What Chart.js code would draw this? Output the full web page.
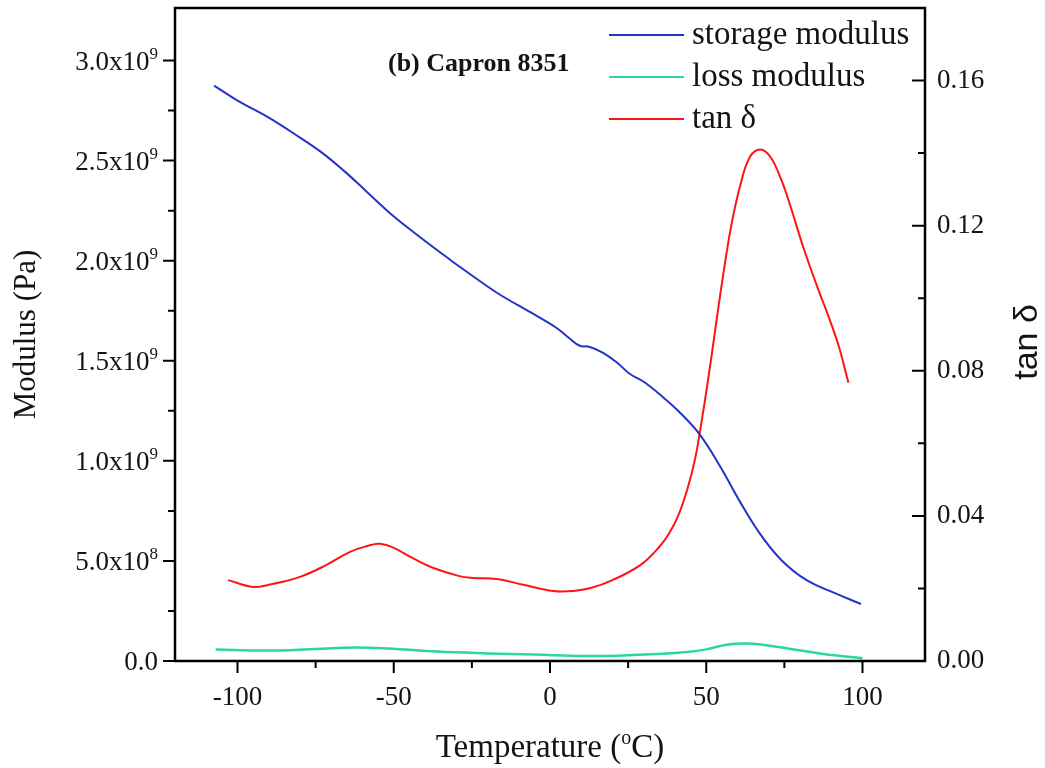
<!DOCTYPE html>
<html>
<head>
<meta charset="utf-8">
<script src="https://cdn.jsdelivr.net/npm/chart.js@4.4.1/dist/chart.umd.min.js"></script>
<style>
  html, body { margin: 0; padding: 0; background: #fff; }
  canvas { display: block; }
</style>
</head>
<body>
<canvas id="dma" width="1045" height="768"></canvas>
<script>
// DMA temperature sweep, Capron 8351
const storageTemp = [-107.5, -100, -90, -80, -73, -66, -59, -51, -43, -32, -28, -17, -6, 2, 6, 9.5, 12.5, 17, 21.5, 25.5, 30, 36, 41, 48, 54.5, 61, 67, 74, 82, 91, 99.5];
const storageModulus = [2.875, 2.80, 2.715, 2.615, 2.54, 2.45, 2.35, 2.235, 2.135, 2.005, 1.96, 1.84, 1.74, 1.665, 1.615, 1.575, 1.57, 1.54, 1.49, 1.435, 1.395, 1.32, 1.25, 1.13, 0.97, 0.79, 0.64, 0.505, 0.405, 0.34, 0.285]; // x10^9 Pa

const lossTemp = [-107, -91, -75, -62.5, -52, -36, -20, -5, 11, 26.5, 42, 50, 56, 62.5, 68.5, 78, 87.5, 100];
const lossModulus = [0.057, 0.052, 0.06, 0.068, 0.063, 0.047, 0.038, 0.032, 0.025, 0.03, 0.042, 0.058, 0.08, 0.087, 0.08, 0.058, 0.035, 0.014]; // x10^9 Pa

const tanTemp = [-103, -95, -90, -80, -71.5, -64, -58.5, -54.5, -50, -44, -37.5, -29, -24.5, -17, -8.5, 1, 7.5, 13, 20, 29, 35, 38, 41, 44, 46.5, 48.5, 50.5, 52.5, 55, 58, 61, 64, 67.3, 70.5, 74, 77, 81, 85.5, 89.5, 92.5, 95.5];
const tanDelta = [0.0223, 0.0204, 0.021, 0.0232, 0.0265, 0.0301, 0.0317, 0.0323, 0.0312, 0.0284, 0.0257, 0.0234, 0.0229, 0.0226, 0.021, 0.0193, 0.0193, 0.0201, 0.0223, 0.0265, 0.0315, 0.035, 0.040, 0.0475, 0.056, 0.066, 0.077, 0.089, 0.104, 0.120, 0.1315, 0.139, 0.141, 0.139, 0.1327, 0.1252, 0.1142, 0.1032, 0.0941, 0.0865, 0.0767];

const tempTicks = [-100, -50, 0, 50, 100];
const modulusTicks = [0, 0.5e9, 1.0e9, 1.5e9, 2.0e9, 2.5e9, 3.0e9];
const modulusLabels = ['0.0', '5.0x10^8', '1.0x10^9', '1.5x10^9', '2.0x10^9', '2.5x10^9', '3.0x10^9'];
const tanTicks = [0, 0.04, 0.08, 0.12, 0.16];
const tanLabels = ['0.00', '0.04', '0.08', '0.12', '0.16'];

const seriesNames = ['storage modulus', 'loss modulus', 'tan \u03b4'];
const seriesColors = ['#2434c6', '#2bd896', '#ff1414'];

const SERIF = "'Liberation Serif', 'Times New Roman', serif";
const INK = '#141414';

const toPoints = (xs, ys, k) => xs.map((t, i) => ({ x: t, y: ys[i] * k }));

function midpoints(list) {
  const out = [];
  for (let i = 1; i < list.length; i++) out.push((list[i - 1] + list[i]) / 2);
  return out;
}

// text with raised exponent parts, y is the baseline
function drawRich(ctx, parts, x, y, size, align) {
  const small = Math.round(size * 0.62);
  const widths = parts.map(p => {
    ctx.font = `${p.sup ? small : size}px ${SERIF}`;
    return ctx.measureText(p.text).width;
  });
  const total = widths.reduce((s, w) => s + w, 0);
  let cx = align === 'right' ? x - total : align === 'center' ? x - total / 2 : x;
  ctx.textAlign = 'left';
  ctx.textBaseline = 'alphabetic';
  parts.forEach((p, i) => {
    ctx.font = `${p.sup ? small : size}px ${SERIF}`;
    ctx.fillText(p.text, cx, p.sup ? y - size * 0.4 : y);
    cx += widths[i];
  });
}

const decorations = {
  id: 'decorations',
  afterDraw(chart) {
    const { ctx, chartArea: a, scales } = chart;
    ctx.save();

    ctx.strokeStyle = '#000';
    ctx.lineWidth = 2.5;
    ctx.strokeRect(a.left, a.top, a.right - a.left, a.bottom - a.top);

    // tick marks: bottom and left point out, right points in
    ctx.lineWidth = 2;
    ctx.beginPath();
    const xTick = (v, len) => {
      const px = scales.x.getPixelForValue(v);
      ctx.moveTo(px, a.bottom); ctx.lineTo(px, a.bottom + len);
    };
    const yTick = (v, len) => {
      const py = scales.y.getPixelForValue(v);
      ctx.moveTo(a.left, py); ctx.lineTo(a.left - len, py);
    };
    const y1Tick = (v, len) => {
      const py = scales.y1.getPixelForValue(v);
      ctx.moveTo(a.right, py); ctx.lineTo(a.right - len, py);
    };
    tempTicks.forEach(v => xTick(v, 12));
    midpoints(tempTicks).forEach(v => xTick(v, 7));
    modulusTicks.forEach(v => yTick(v, 12));
    midpoints(modulusTicks).forEach(v => yTick(v, 7));
    tanTicks.forEach(v => y1Tick(v, 13));
    midpoints(tanTicks).forEach(v => y1Tick(v, 7));
    ctx.stroke();

    ctx.fillStyle = INK;
    modulusTicks.forEach((v, i) => {
      const [base, exp] = modulusLabels[i].split('^');
      const parts = [{ text: base }];
      if (exp) parts.push({ text: exp, sup: true });
      drawRich(ctx, parts, 158, scales.y.getPixelForValue(v) + 9, 27, 'right');
    });

    drawRich(ctx, [{ text: 'Temperature (' }, { text: 'o', sup: true }, { text: 'C)' }],
      (a.left + a.right) / 2, 757, 33, 'center');

    ctx.save();
    ctx.translate(1028, 342);
    ctx.rotate(-Math.PI / 2);
    ctx.font = "34px 'Liberation Sans Narrow', 'Liberation Sans', sans-serif";
    ctx.textAlign = 'center';
    ctx.textBaseline = 'middle';
    ctx.fillText('tan \u03b4', 0, 0);
    ctx.restore();

    // legend, top right inside the frame
    chart.data.datasets.forEach((ds, i) => {
      const y = 35 + i * 42;
      ctx.strokeStyle = ds.borderColor;
      ctx.lineWidth = 2;
      ctx.beginPath();
      ctx.moveTo(609, y);
      ctx.lineTo(684, y);
      ctx.stroke();
      ctx.font = `33px ${SERIF}`;
      ctx.textAlign = 'left';
      ctx.textBaseline = 'middle';
      ctx.fillText(ds.label, 692, y);
    });

    ctx.font = `bold 26px ${SERIF}`;
    ctx.textAlign = 'left';
    ctx.textBaseline = 'middle';
    ctx.fillText('(b) Capron 8351', 388, 64);

    ctx.restore();
  }
};

const tickFont = { family: SERIF, size: 27 };

new Chart(document.getElementById('dma'), {
  type: 'line',
  data: {
    datasets: [
      {
        label: seriesNames[0],
        data: toPoints(storageTemp, storageModulus, 1e9),
        borderColor: seriesColors[0],
        borderWidth: 2,
        yAxisID: 'y'
      },
      {
        label: seriesNames[1],
        data: toPoints(lossTemp, lossModulus, 1e9),
        borderColor: seriesColors[1],
        borderWidth: 2.5,
        yAxisID: 'y'
      },
      {
        label: seriesNames[2],
        data: toPoints(tanTemp, tanDelta, 1),
        borderColor: seriesColors[2],
        borderWidth: 2,
        yAxisID: 'y1'
      }
    ]
  },
  options: {
    responsive: false,
    animation: false,
    layout: { padding: { top: 8, left: 0, right: 0, bottom: 0 } },
    elements: {
      point: { radius: 0 },
      line: { tension: 0.4, fill: false }
    },
    plugins: {
      legend: { display: false },
      tooltip: { enabled: false }
    },
    scales: {
      x: {
        type: 'linear',
        min: -120,
        max: 120,
        afterBuildTicks: s => { s.ticks = tempTicks.map(v => ({ value: v })); },
        afterFit: s => { s.height = 107; s.paddingLeft = 0; s.paddingRight = 0; },
        grid: { display: false, drawTicks: false },
        border: { display: false },
        ticks: { font: tickFont, color: INK, padding: 21, maxRotation: 0, callback: v => String(v) }
      },
      y: {
        position: 'left',
        min: 0,
        max: 3.2625e9,
        afterBuildTicks: s => { s.ticks = modulusTicks.map(v => ({ value: v })); },
        afterFit: s => { s.width = 175; s.paddingTop = 0; s.paddingBottom = 0; },
        grid: { display: false, drawTicks: false },
        border: { display: false },
        ticks: { display: false },
        title: {
          display: true,
          text: 'Modulus (Pa)',
          color: INK,
          font: { family: SERIF, size: 31 },
          padding: { top: 8, bottom: 0 }
        }
      },
      y1: {
        position: 'right',
        min: 0,
        max: 0.18,
        afterBuildTicks: s => { s.ticks = tanTicks.map(v => ({ value: v })); },
        afterFit: s => { s.width = 120; s.paddingTop = 0; s.paddingBottom = 0; },
        grid: { display: false, drawTicks: false },
        border: { display: false },
        ticks: {
          font: tickFont,
          color: INK,
          padding: 12,
          callback: v => tanLabels[tanTicks.indexOf(v)]
        }
      }
    }
  },
  plugins: [decorations]
});
</script>
</body>
</html>
